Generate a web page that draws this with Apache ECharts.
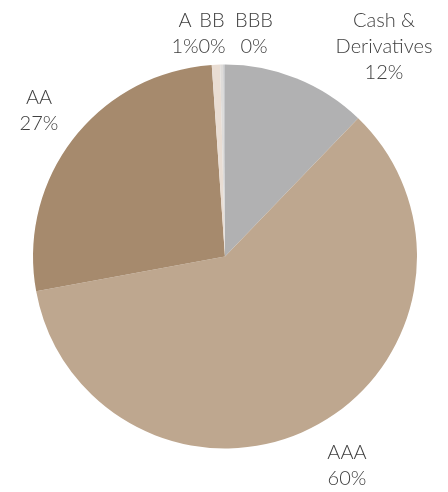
<!DOCTYPE html>
<html>
<head>
<meta charset="utf-8">
<script src="https://cdn.jsdelivr.net/npm/echarts@6/dist/echarts.min.js"></script>
<style>html,body{margin:0;padding:0;background:#fff;}#c{width:448px;height:492px;}</style>
</head>
<body>
<div id="c"></div>
<script>
var categories = ['Cash & Derivatives', 'AAA', 'AA', 'A', 'BB', 'BBB'];
var values = [12.2, 59.9, 26.8, 0.7, 0.25, 0.15];
var colors = ['#b1b1b2', '#bea78f', '#a68a6d', '#e9ddd3', '#dedcda', '#c8c9cb'];
// label centre positions (px) for each category's text block
var labelPos = [[384, 47], [347, 466], [39, 111], [185, 34], [212, 34], [254, 34]];

var chart = echarts.init(document.getElementById('c'), null, {renderer: 'canvas'});
chart.setOption({
  animation: false,
  series: [{
    type: 'pie',
    center: [225, 256.5],
    radius: 192,
    startAngle: 90,
    clockwise: true,
    avoidLabelOverlap: false,
    minAngle: 0,
    data: categories.map(function (c, i) {
      return {name: c, value: values[i], itemStyle: {color: colors[i]}};
    }),
    itemStyle: {borderWidth: 0},
    emphasis: {disabled: true},
    label: {
      show: true,
      position: 'outside',
      fontFamily: 'Lato',
      fontWeight: 300,
      fontSize: 20,
      lineHeight: 26,
      color: '#404040',
      align: 'center',
      formatter: function (p) {
        var n = p.name === 'Cash & Derivatives' ? 'Cash &\nDerivatives' : p.name;
        return n + '\n' + Math.round(p.percent) + '%';
      }
    },
    labelLine: {show: false},
    labelLayout: function (p) {
      var pos = labelPos[p.dataIndex];
      return {x: pos[0], y: pos[1], align: 'center', verticalAlign: 'middle', hideOverlap: false};
    }
  }]
});
</script>
</body>
</html>
